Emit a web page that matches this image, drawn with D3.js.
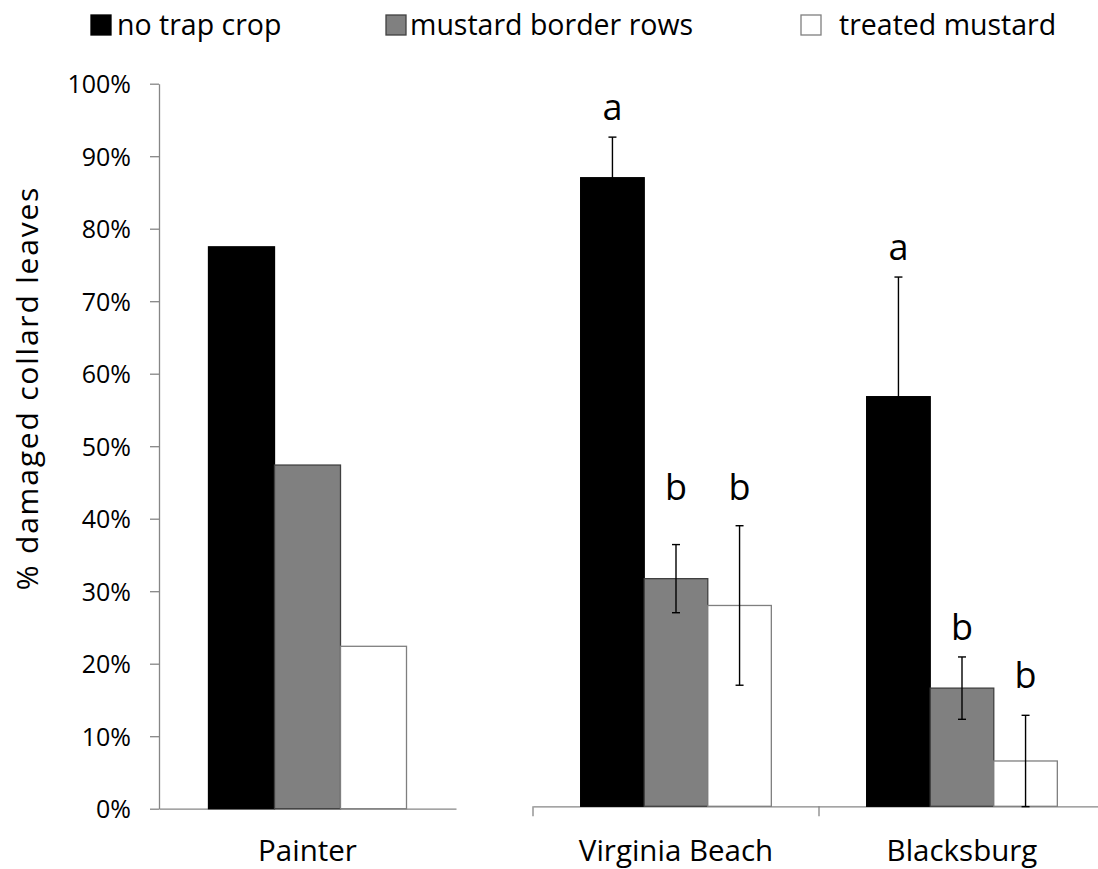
<!DOCTYPE html>
<html lang="en">
<head>
    <meta charset="UTF-8">
    <title>Damaged collard leaves</title>
    <script src="https://d3js.org/d3.v7.min.js"></script>
    <style>
        body { margin: 0; background: #fff; }
        svg text { font-family: "Open Sans", sans-serif; fill: #000; }
        .axis path, .axis line { stroke: #868686; stroke-width: 1.3; }
    </style>
</head>
<body>
    <svg id="chart"></svg>

    <script>
        // series and categories
        var series = ['no trap crop', 'mustard border rows', 'treated mustard'];
        var leftSites = ['Painter'];
        var rightSites = ['Virginia Beach', 'Blacksburg'];
        var yTicks = [0, 0.1, 0.2, 0.3, 0.4, 0.5, 0.6, 0.7, 0.8, 0.9, 1.0];

        // values (fraction damaged)
        var painterValues = [0.775, 0.474, 0.224];
        var vbValues = [0.867, 0.314, 0.277];
        var vbErrors = [0.056, 0.047, 0.110];
        var bbValues = [0.565, 0.163, 0.0625];
        var bbErrors = [0.165, 0.043, 0.063];

        // significance letters and the height they sit at
        var vbLetters = ['a', 'b', 'b'];
        var vbLetterAt = [0.946, 0.422, 0.422];
        var bbLetters = ['a', 'b', 'b'];
        var bbLetterAt = [0.753, 0.230, 0.163];

        var fills = ['#000000', '#808080', '#ffffff'];
        var strokes = ['#000000', '#404040', '#7f7f7f'];

        var width = 1098, height = 869;
        var svg = d3.select('#chart').attr('width', width).attr('height', height);

        var leftData = [{ site: 'Painter', values: painterValues, errors: null, letters: null, letterAt: null }];
        var rightData = [
            { site: 'Virginia Beach', values: vbValues, errors: vbErrors, letters: vbLetters, letterAt: vbLetterAt },
            { site: 'Blacksburg', values: bbValues, errors: bbErrors, letters: bbLetters, letterAt: bbLetterAt }
        ];

        // left panel scales
        var x1 = d3.scaleBand().domain(leftSites).range([159, 456]).padding(0);
        var y1 = d3.scaleLinear().domain([0, 1]).range([808.7, 83.7]);
        // right panel scales (own hidden axis, slightly shifted)
        var x2 = d3.scaleBand().domain(rightSites).range([533, 1105]).padding(0);
        var y2 = d3.scaleLinear().domain([0, 1]).range([806.3, 81.3]);

        // y axis (left panel only)
        svg.append('g')
            .attr('class', 'axis')
            .attr('transform', 'translate(159,0)')
            .call(d3.axisLeft(y1).tickValues(yTicks).tickFormat(d3.format('.0%'))
                .tickSize(9).tickSizeOuter(0).tickPadding(19))
            .call(g => g.selectAll('text').style('font-size', '25px').attr('dy', '0.36em'));

        function drawPanel(data, x, y, tickLen) {
            var sub = d3.scaleBand().domain(d3.range(series.length))
                .range([0, x.bandwidth()]).paddingInner(0).paddingOuter(0.75);

            // baseline with category labels
            var axis = svg.append('g')
                .attr('class', 'axis')
                .attr('transform', 'translate(0,' + y(0) + ')')
                .call(d3.axisBottom(x).tickSize(0).tickSizeOuter(0).tickPadding(861 - y(0) - 21));
            axis.selectAll('text').style('font-size', '29.5px').attr('dy', '0.71em');

            if (tickLen > 0) {
                var edges = x.domain().map(d => x(d)).concat([x.range()[1]]);
                axis.selectAll('.edge')
                    .data(edges)
                    .enter()
                    .append('line')
                    .attr('class', 'edge')
                    .attr('x1', d => d).attr('x2', d => d)
                    .attr('y1', 0).attr('y2', tickLen);
            }

            var groups = svg.selectAll(null)
                .data(data)
                .enter()
                .append('g')
                .attr('transform', d => 'translate(' + x(d.site) + ',0)');

            groups.selectAll('rect')
                .data(d => d.values)
                .enter()
                .append('rect')
                .attr('x', (v, i) => sub(i))
                .attr('width', sub.bandwidth())
                .attr('y', v => y(v))
                .attr('height', v => y(0) - y(v))
                .attr('fill', (v, i) => fills[i])
                .attr('stroke', (v, i) => strokes[i])
                .attr('stroke-width', 1.3);

            // error bars
            var err = groups.selectAll('.err')
                .data(d => d.errors ? d.values.map((v, i) => ({ v: v, e: d.errors[i], i: i })) : [])
                .enter()
                .append('g')
                .attr('class', 'err')
                .attr('stroke', '#000')
                .attr('stroke-width', 1.4);
            err.append('line')
                .attr('x1', d => sub(d.i) + sub.bandwidth() / 2)
                .attr('x2', d => sub(d.i) + sub.bandwidth() / 2)
                .attr('y1', d => y(d.v - d.e))
                .attr('y2', d => y(d.v + d.e));
            [-1, 1].forEach(function (s) {
                err.append('line')
                    .attr('x1', d => sub(d.i) + sub.bandwidth() / 2 - 4)
                    .attr('x2', d => sub(d.i) + sub.bandwidth() / 2 + 4)
                    .attr('y1', d => y(d.v + s * d.e))
                    .attr('y2', d => y(d.v + s * d.e));
            });

            // letters
            groups.selectAll('.letter')
                .data(d => d.letters ? d.letters.map((t, i) => ({ t: t, at: d.letterAt[i], i: i })) : [])
                .enter()
                .append('text')
                .attr('class', 'letter')
                .attr('x', d => sub(d.i) + sub.bandwidth() / 2)
                .attr('y', d => y(d.at))
                .attr('text-anchor', 'middle')
                .style('font-size', '36px')
                .text(d => d.t);
        }

        drawPanel(leftData, x1, y1, 0);
        drawPanel(rightData, x2, y2, 10);

        // y axis title
        svg.append('text')
            .attr('transform', 'translate(38,388) rotate(-90)')
            .attr('text-anchor', 'middle')
            .style('font-size', '30px')
            .style('letter-spacing', '1.8px')
            .text('% damaged collard leaves');

        // legend
        var legendX = [91, 386, 801];
        var legendTextX = [117, 410, 839];
        var legend = svg.selectAll('.legend')
            .data(series)
            .enter()
            .append('g')
            .attr('class', 'legend');
        legend.append('rect')
            .attr('x', (d, i) => legendX[i])
            .attr('y', 15)
            .attr('width', 20)
            .attr('height', 20)
            .attr('fill', (d, i) => fills[i])
            .attr('stroke', (d, i) => strokes[i])
            .attr('stroke-width', 1.3);
        legend.append('text')
            .attr('x', (d, i) => legendTextX[i])
            .attr('y', 35)
            .style('font-size', '28.5px')
            .text(d => d);
    </script>
</body>
</html>
